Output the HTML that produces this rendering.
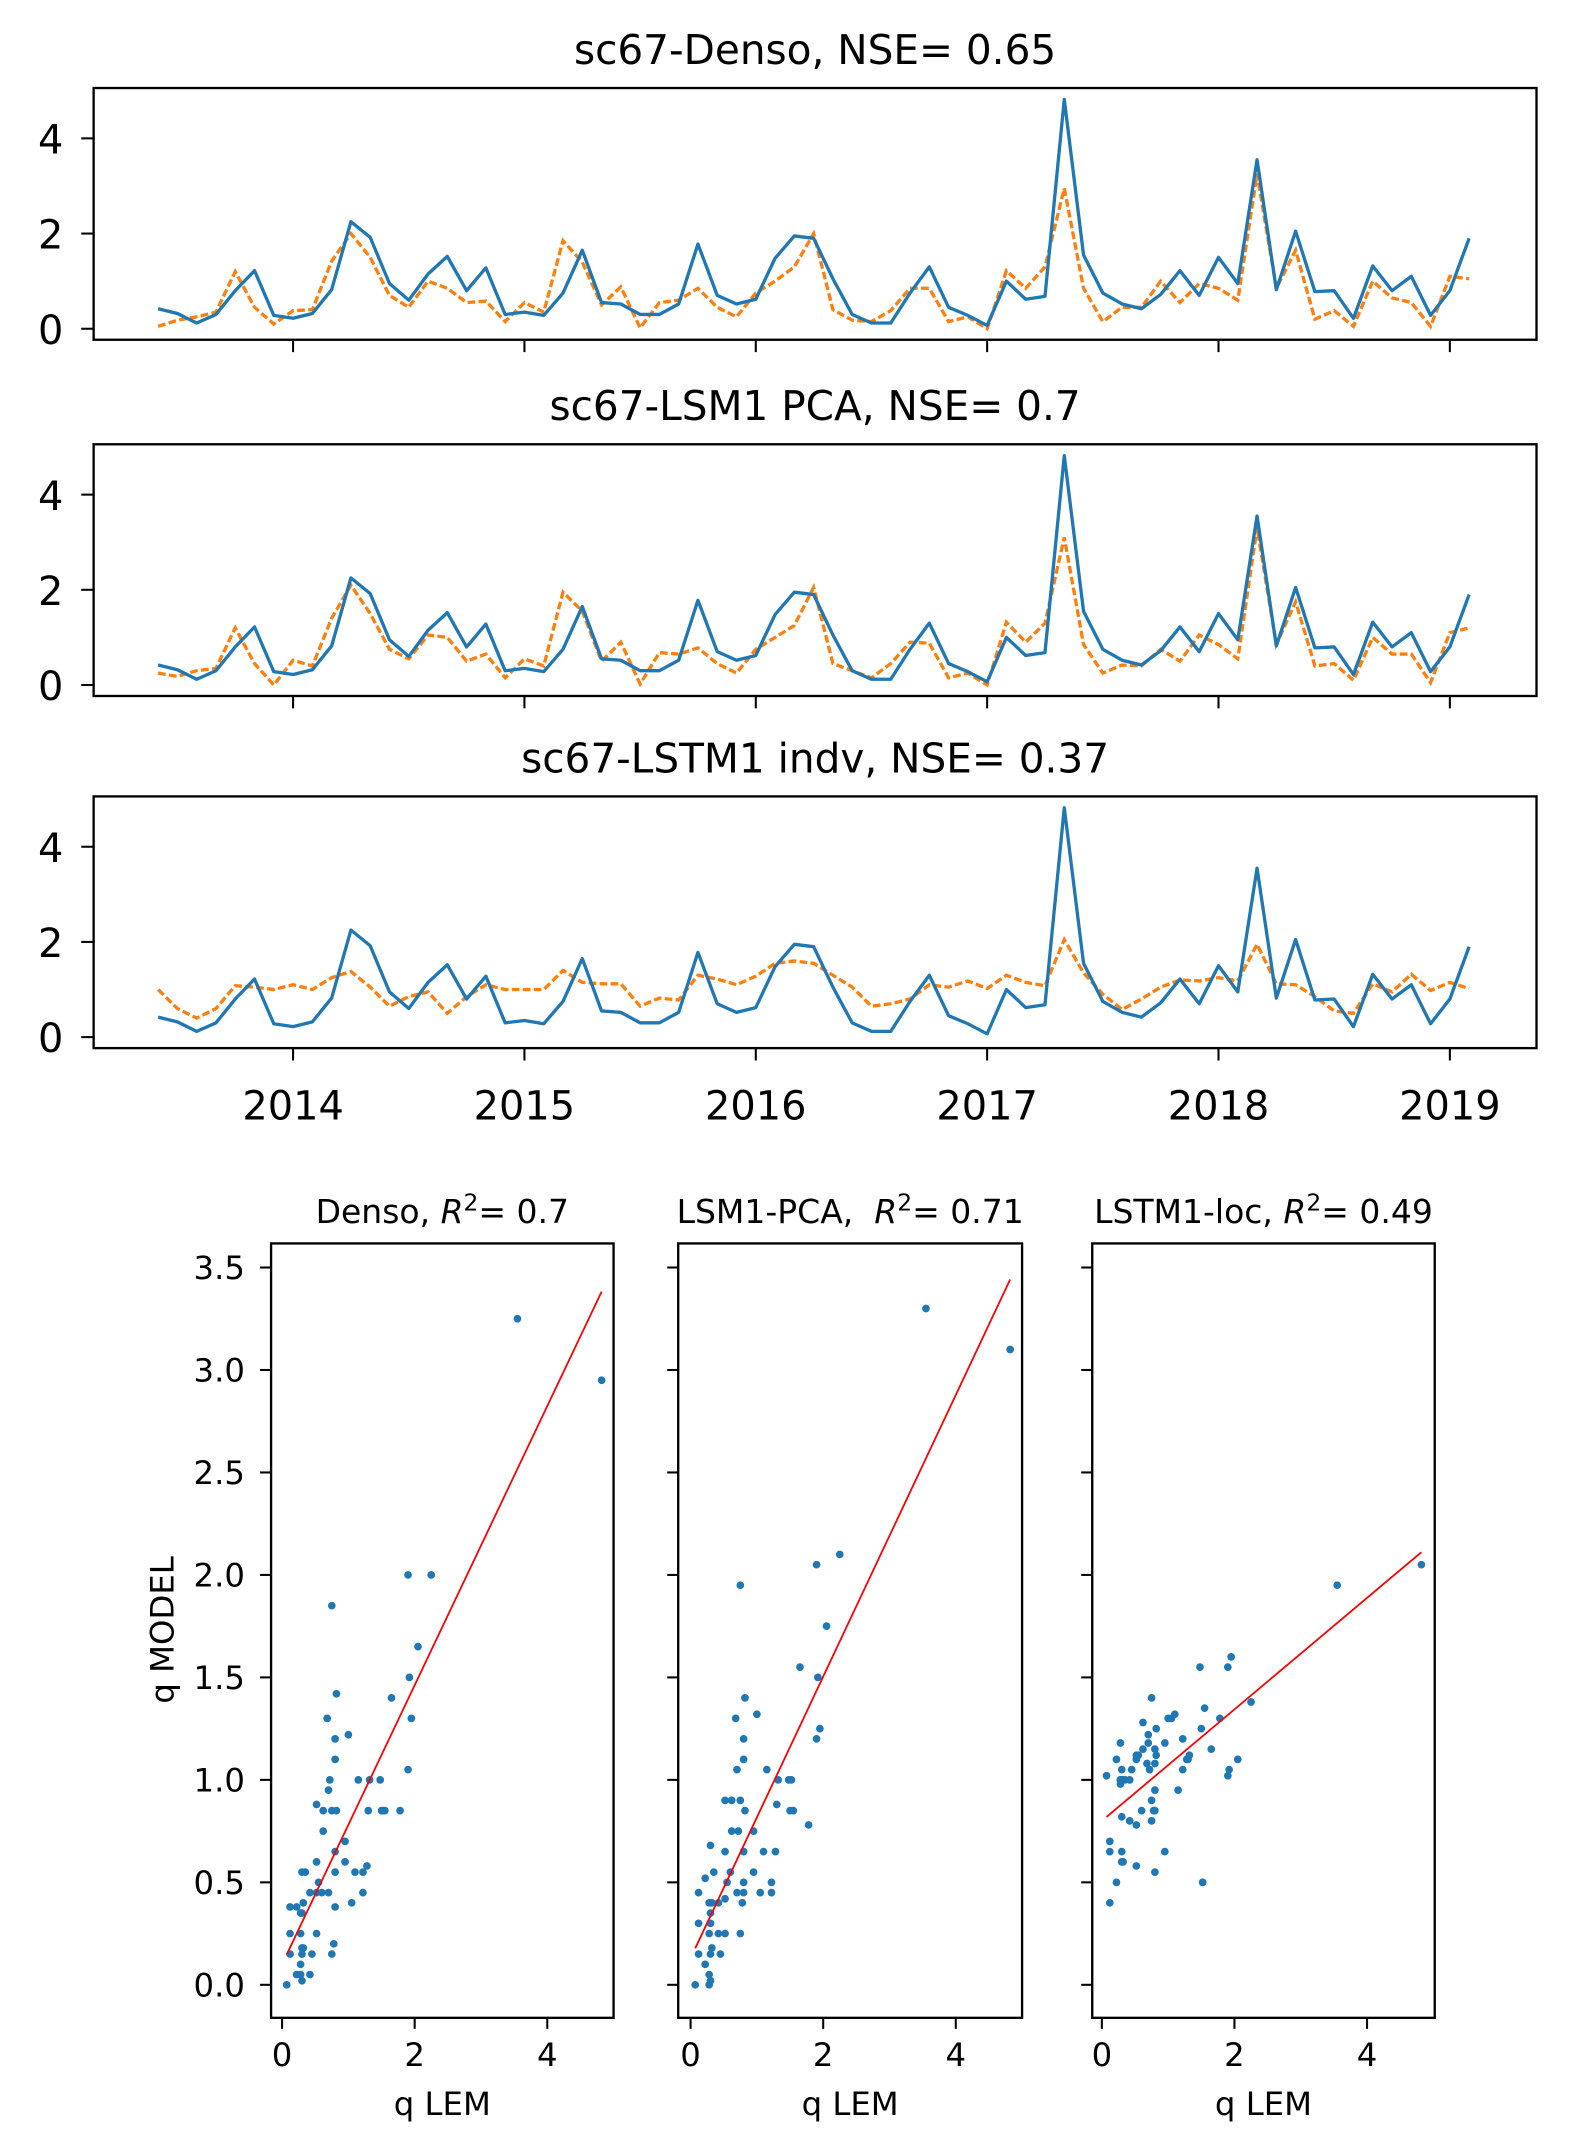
<!DOCTYPE html>
<html><head><meta charset="utf-8"><style>
html,body{margin:0;padding:0;background:#fff;}
svg{display:block;font-family:"DejaVu Sans","Liberation Sans",sans-serif;}
</style></head><body>
<svg id="fig" width="1582" height="2154" viewBox="0 0 1150 1566" xmlns="http://www.w3.org/2000/svg"></svg>
<script>
const obs = [0.42,0.32,0.12,0.3,0.8,1.22,0.28,0.22,0.32,0.82,2.25,1.92,0.95,0.6,1.15,1.52,0.8,1.28,0.3,0.35,0.28,0.75,1.65,0.55,0.52,0.3,0.3,0.52,1.78,0.7,0.52,0.62,1.48,1.95,1.9,1.05,0.3,0.12,0.12,0.75,1.3,0.45,0.28,0.07,1.0,0.62,0.68,4.82,1.55,0.75,0.52,0.42,0.72,1.22,0.7,1.5,0.95,3.55,0.82,2.05,0.78,0.8,0.22,1.32,0.8,1.1,0.28,0.8,1.9];
const densoSim = [0.05,0.18,0.25,0.35,1.2,0.45,0.1,0.38,0.4,1.42,2.0,1.5,0.7,0.45,1.0,0.85,0.55,0.58,0.15,0.55,0.35,1.85,1.4,0.5,0.88,0.02,0.55,0.6,0.85,0.45,0.25,0.75,1.0,1.3,2.0,0.4,0.18,0.15,0.38,0.85,0.85,0.15,0.25,0.0,1.22,0.85,1.3,2.95,0.85,0.15,0.45,0.45,1.0,0.55,0.95,0.85,0.6,3.25,0.85,1.65,0.2,0.38,0.05,1.0,0.65,0.55,0.05,1.1,1.05];
const pcaSim = [0.25,0.18,0.3,0.35,1.2,0.45,0.0,0.52,0.4,1.4,2.1,1.5,0.75,0.55,1.05,1.0,0.5,0.65,0.15,0.55,0.4,1.95,1.55,0.5,0.9,0.02,0.68,0.65,0.78,0.45,0.25,0.75,1.0,1.25,2.05,0.45,0.3,0.15,0.45,0.9,0.88,0.15,0.25,0.0,1.32,0.9,1.3,3.1,0.85,0.25,0.42,0.4,0.75,0.5,1.05,0.85,0.55,3.3,0.85,1.75,0.4,0.45,0.1,1.0,0.65,0.65,0.05,1.1,1.2];
const lstmSim = [1.0,0.6,0.4,0.6,1.08,1.05,1.0,1.1,1.0,1.25,1.38,1.05,0.65,0.85,0.95,0.5,0.85,1.1,1.0,1.0,1.0,1.4,1.15,1.12,1.12,0.65,0.82,0.78,1.3,1.22,1.1,1.28,1.55,1.6,1.55,1.3,1.05,0.65,0.7,0.8,1.1,1.05,1.18,1.02,1.3,1.15,1.08,2.05,1.35,0.9,0.58,0.8,1.05,1.2,1.18,1.25,1.18,1.95,1.12,1.1,0.85,0.55,0.5,1.12,0.95,1.32,0.98,1.15,1.02];
const tsTitles = ["sc67-Denso, NSE= 0.65","sc67-LSM1 PCA, NSE= 0.7","sc67-LSTM1 indv, NSE= 0.37"];
const yearTicks = [2014,2015,2016,2017,2018,2019];
const tsYTicks = [0,2,4];
const scNames = ["Denso, ","LSM1-PCA,  ","LSTM1-loc, "];
const scR2 = ["0.7","0.71","0.49"];
const fitSlope = [0.681,0.687,0.272];
const fitIntercept = [0.10,0.13,0.80];
const scYTicks = ["0.0","0.5","1.0","1.5","2.0","2.5","3.0","3.5"];
const scXTicks = [0,2,4];
const startMonthIndex = 5; // June 2013 (0-based month)
const startYear = 2013;

const NS="http://www.w3.org/2000/svg";
const svg=document.getElementById('fig');
function mk(tag,attrs,parent){const e=document.createElementNS(NS,tag);for(const k in attrs)e.setAttribute(k,attrs[k]);(parent||svg).appendChild(e);return e;}
const BLUE="#1f77b4",ORANGE="#ff7f0e";
const TSF='29', SCF='23.5';

const panels=[{top:64,bot:247,sim:densoSim},{top:323,bot:506,sim:pcaSim},{top:579,bot:762,sim:lstmSim}];
const tsL=68,tsR=1117;
const monthPx=(1054-213)/60;
function tx(i){
  const monthsFrom2014=(startYear*12+startMonthIndex+i)-2014*12;
  return 213+monthsFrom2014*monthPx;
}
function txYear(y){return 213+(y-2014)*12*monthPx;}
panels.forEach((p,k)=>{
  const zero=p.bot-8, unit=34.6;
  const ty=v=>zero-v*unit;
  const g=mk('g',{});
  
  
  const t=mk('text',{x:(tsL+tsR)/2,y:p.top-17.5,'text-anchor':'middle','font-size':'29.5',fill:'#000'},g);
  t.textContent=tsTitles[k];
  
  
  let d='';obs.forEach((v,i)=>{d+=(i?'L':'M')+tx(i).toFixed(2)+' '+ty(v).toFixed(2);});
  let d2='';p.sim.forEach((v,i)=>{d2+=(i?'L':'M')+tx(i).toFixed(2)+' '+ty(v).toFixed(2);});
  const l2=mk('path',{d:d2,fill:'none',stroke:ORANGE,'stroke-width':'2.4','stroke-dasharray':'5.6 2.4'},g);
  
  
  const l1=mk('path',{d:d,fill:'none',stroke:BLUE,'stroke-width':'2.4','stroke-linejoin':'round'},g);
  
  
  const fr=mk('rect',{x:tsL,y:p.top,width:tsR-tsL,height:p.bot-p.top,fill:'none',stroke:'#000','stroke-width':'1.7'},g);
  
  
  tsYTicks.forEach(v=>{
    mk('line',{x1:tsL-9,x2:tsL,y1:ty(v),y2:ty(v),stroke:'#000','stroke-width':'1.5'},g);
    const tl=mk('text',{x:tsL-22,y:ty(v)+11,'text-anchor':'end','font-size':TSF},g);
    tl.textContent=v;
    
    
  });
  yearTicks.forEach(y=>{
    mk('line',{x1:txYear(y),x2:txYear(y),y1:p.bot,y2:p.bot+9,stroke:'#000','stroke-width':'1.5'},g);
    if(k===2){
      const xl=mk('text',{x:txYear(y),y:814,'text-anchor':'middle','font-size':TSF},g);
      xl.textContent=y;
      
      
    }
  });
});

const sims=[densoSim,pcaSim,lstmSim];
const scP=[{l:197,r:446,x0:205},{l:493,r:743,x0:502},{l:794,r:1043,x0:801}];
const scTop=904,scBot=1467,y0=1443,yUnit=149;
const xUnit=48.2;
scP.forEach((p,k)=>{
  const sx=v=>p.x0+v*xUnit, sy=v=>y0-v*yUnit;
  const g=mk('g',{});
  
  
  const t=mk('text',{x:(p.l+p.r)/2,y:scTop-15,'text-anchor':'middle','font-size':'24'},g);
  
  
  const a=mk('tspan',{},t);a.textContent=scNames[k].replace(/ /g,'\u00a0');
  const b=mk('tspan',{'font-style':'italic'},t);b.textContent='R';
  const c=mk('tspan',{dy:'-9','font-size':'17'},t);c.textContent='2';
  const d=mk('tspan',{dy:'9'},t);d.textContent='= '+scR2[k];
  sims[k].forEach((v,i)=>{
    const dot=mk('circle',{cx:sx(obs[i]),cy:sy(v),r:'2.8',fill:BLUE},g);
    
    
  });
  const xmin=Math.min(...obs),xmax=Math.max(...obs);
  const fl=mk('line',{x1:sx(xmin),y1:sy(fitIntercept[k]+fitSlope[k]*xmin),x2:sx(xmax),y2:sy(fitIntercept[k]+fitSlope[k]*xmax),stroke:'#ff0000','stroke-width':'1.3'},g);
  
  
  const fr=mk('rect',{x:p.l,y:scTop,width:p.r-p.l,height:scBot-scTop,fill:'none',stroke:'#000','stroke-width':'1.7'},g);
  
  
  scYTicks.forEach(s=>{
    const v=parseFloat(s);
    mk('line',{x1:p.l-8,x2:p.l,y1:sy(v),y2:sy(v),stroke:'#000','stroke-width':'1.5'},g);
    if(k===0){
      const tl=mk('text',{x:p.l-19,y:sy(v)+8.5,'text-anchor':'end','font-size':SCF},g);
      tl.textContent=s;
      
      
    }
  });
  scXTicks.forEach(v=>{
    mk('line',{x1:sx(v),x2:sx(v),y1:scBot,y2:scBot+8,stroke:'#000','stroke-width':'1.5'},g);
    const xl=mk('text',{x:sx(v),y:1502,'text-anchor':'middle','font-size':SCF},g);
    xl.textContent=v;
    
    
  });
  const xt=mk('text',{x:(p.l+p.r)/2,y:1537.5,'text-anchor':'middle','font-size':SCF},g);
  xt.textContent='q LEM';
  
  
});
const yt=mk('text',{x:0,y:0,'text-anchor':'middle','font-size':SCF,transform:'translate(126,1185) rotate(-90)'});
yt.textContent='q MODEL';


</script>
</body></html>
